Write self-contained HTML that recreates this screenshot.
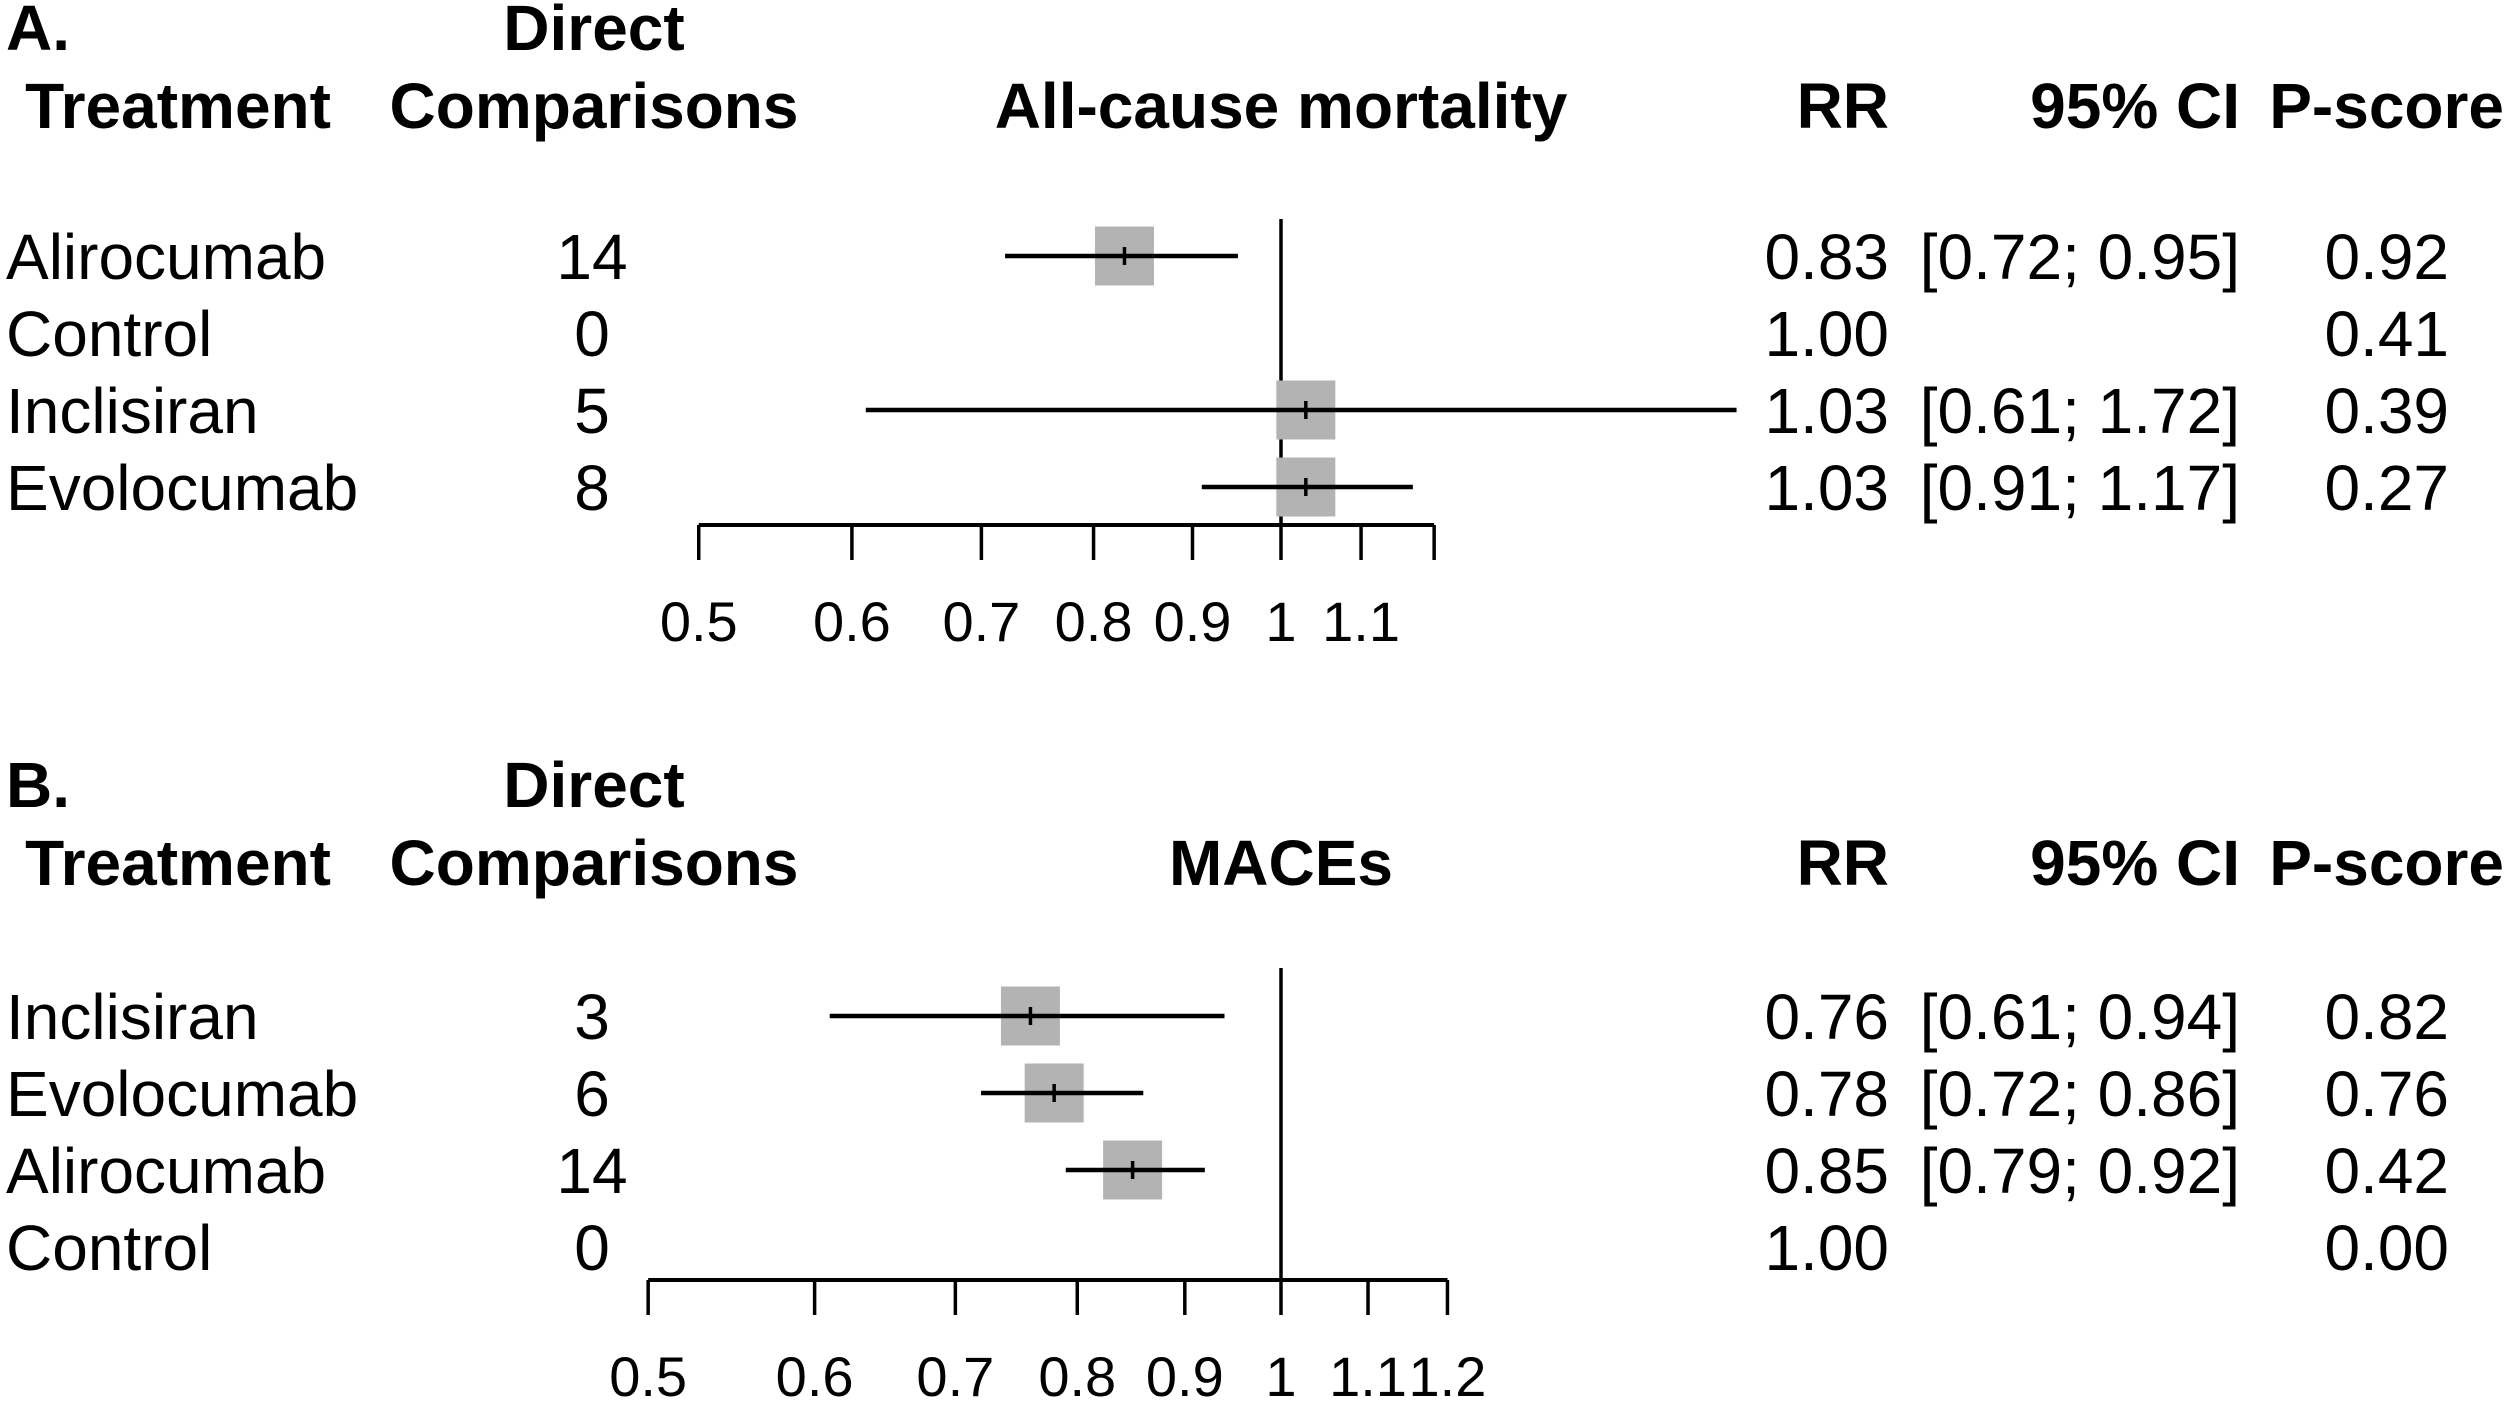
<!DOCTYPE html>
<html><head><meta charset="utf-8"><style>
html,body{margin:0;padding:0;background:#fff;}
svg{display:block;font-family:"Liberation Sans",Arial,sans-serif;}
</style></head><body>
<svg id="chart" width="2508" height="1403" viewBox="0 0 2508 1403" xmlns="http://www.w3.org/2000/svg"></svg>
<script>
// Panel A data
const treatmentsA = ["Alirocumab","Control","Inclisiran","Evolocumab"];
const directA = ["14","0","5","8"];
const rrA = [0.83, 1.00, 1.03, 1.03];
const lowA = [0.72, null, 0.61, 0.91];
const highA = [0.95, null, 1.72, 1.17];
const pscoreA = ["0.92","0.41","0.39","0.27"];
const ticksA = [0.5,0.6,0.7,0.8,0.9,1,1.1,1.2];
const tickLabelsA = ["0.5","0.6","0.7","0.8","0.9","1","1.1",""];
// Panel B data
const treatmentsB = ["Inclisiran","Evolocumab","Alirocumab","Control"];
const directB = ["3","6","14","0"];
const rrB = [0.76, 0.78, 0.85, 1.00];
const lowB = [0.61, 0.72, 0.79, null];
const highB = [0.94, 0.86, 0.92, null];
const pscoreB = ["0.82","0.76","0.42","0.00"];
const ticksB = [0.5,0.6,0.7,0.8,0.9,1,1.1,1.2];
const tickLabelsB = ["0.5","0.6","0.7","0.8","0.9","1","1.1","1.2"];

const NS="http://www.w3.org/2000/svg";
const svg=document.getElementById('chart');
function mk(tag,attrs,parent){const e=document.createElementNS(NS,tag);for(const k in attrs)e.setAttribute(k,attrs[k]);(parent||svg).appendChild(e);return e;}
function txt(s,x,y,anchor,bold,size,parent){const t=mk('text',{x:x,y:y,'text-anchor':anchor,'font-size':size||64,'font-weight':bold?'bold':'normal',fill:'#000'},parent);t.textContent=s;return t;}
const fmt=v=>v.toFixed(2);

function panel(p){
  const g=mk('g',{});
  
  
  const o=p.off;
  const xs=v=>1281+p.scale*Math.log(v);
  let t;
  t=txt(p.letter,6,50+o,'start',true,64,g);
  
  t=txt('Direct',594,50+o,'middle',true,64,g);
  
  t=txt('Treatment',178,128+o,'middle',true,64,g);
  
  t=txt('Comparisons',594,128+o,'middle',true,64,g);
  
  t=txt(p.title,1281,128+o,'middle',true,64,g);
  
  t=txt('RR',1889,128+o,'end',true,64,g);
  
  t=txt('95% CI',2240,128+o,'end',true,64,g);
  
  t=txt('P-score',2504,128+o,'end',true,64,g);
  
  const rl=mk('line',{x1:xs(1),x2:xs(1),y1:p.refTop,y2:p.axisY,stroke:'#000','stroke-width':3.5},g);
  
  p.tr.forEach((name,i)=>{
    const cy=p.rowY0+i*77;
    const base=cy+23;
    let e=txt(name,6,base,'start',false,64,g);
    
    e=txt(p.dir[i],592,base,'middle',false,64,g);
    
    e=txt(fmt(p.rr[i]),1889,base,'end',false,64,g);
    
    if(p.lo[i]!==null){
      e=txt('['+fmt(p.lo[i])+'; '+fmt(p.hi[i])+']',2240,base,'end',false,64,g);
      
      const b=mk('rect',{x:xs(p.rr[i])-29.5,y:cy-29.5,width:59,height:59,fill:'#b3b3b3'},g);
      
      const l=mk('line',{x1:xs(p.lo[i]),x2:xs(p.hi[i]),y1:cy,y2:cy,stroke:'#000','stroke-width':4.5},g);
      
      const m=mk('line',{x1:xs(p.rr[i]),x2:xs(p.rr[i]),y1:cy-9,y2:cy+9,stroke:'#000','stroke-width':3.5},g);
      
    }
    e=txt(p.ps[i],2449,base,'end',false,64,g);
    
  });
  const ax=mk('line',{x1:xs(p.ticks[0]),x2:xs(p.ticks[p.ticks.length-1]),y1:p.axisY,y2:p.axisY,stroke:'#000','stroke-width':4},g);
  
  p.ticks.forEach((v,i)=>{
    const tk=mk('line',{x1:xs(v),x2:xs(v),y1:p.axisY,y2:p.axisY+35,stroke:'#000','stroke-width':3.5},g);
    
    if(p.tl[i]){const tl=txt(p.tl[i],xs(v),p.axisY+116,'middle',false,56,g);
      }
  });
}
panel({name:'panel-a-all-cause-mortality',letter:'A.',title:'All-cause mortality',off:0,scale:840,refTop:219,axisY:525,rowY0:256,
  tr:treatmentsA,dir:directA,rr:rrA,lo:lowA,hi:highA,ps:pscoreA,ticks:ticksA,tl:tickLabelsA});
panel({name:'panel-b-maces',letter:'B.',title:'MACEs',off:757,scale:913,refTop:968,axisY:1280,rowY0:1016,
  tr:treatmentsB,dir:directB,rr:rrB,lo:lowB,hi:highB,ps:pscoreB,ticks:ticksB,tl:tickLabelsB});
</script>
</body></html>
